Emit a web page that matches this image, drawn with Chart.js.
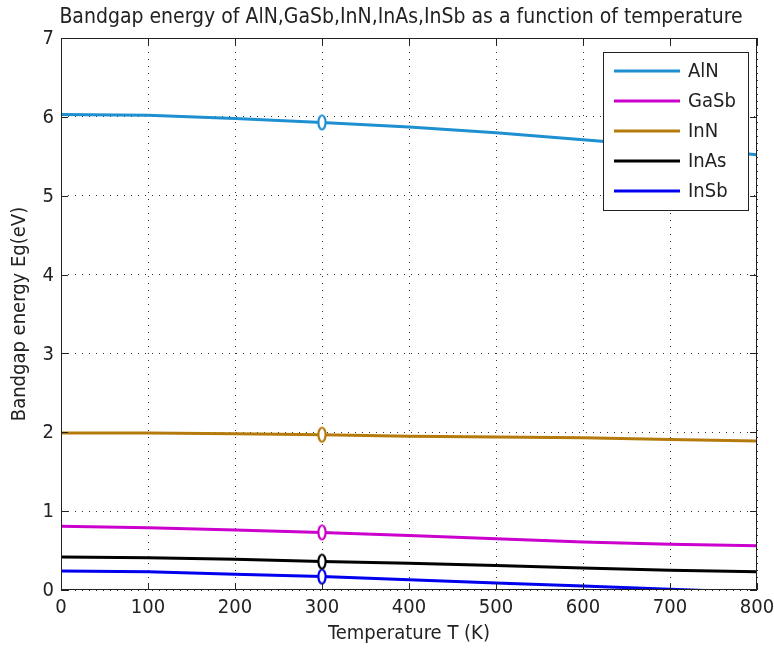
<!DOCTYPE html>
<html>
<head>
<meta charset="utf-8">
<script src="https://cdn.jsdelivr.net/npm/chart.js@4.4.0/dist/chart.umd.min.js"></script>
<style>
  html, body { margin: 0; padding: 0; background: #fff; }
  #wrap { width: 774px; height: 651px; }
</style>
</head>
<body>
<div id="wrap"><canvas id="bandgap-chart"></canvas></div>
<script>
var temps = [0, 100, 200, 300, 400, 500, 600, 700, 800]

var aln  = [6.03, 6.02, 5.98, 5.93, 5.87, 5.80, 5.71, 5.62, 5.52]
var gasb = [0.81, 0.79, 0.76, 0.73, 0.69, 0.65, 0.61, 0.58, 0.56]
var inn  = [1.99, 1.99, 1.98, 1.97, 1.95, 1.94, 1.93, 1.91, 1.89]
var inas = [0.42, 0.41, 0.39, 0.36, 0.34, 0.31, 0.28, 0.25, 0.23]
var insb = [0.24, 0.23, 0.20, 0.17, 0.13, 0.09, 0.05, 0.01, -0.03]

var series_names = ['AlN', 'GaSb', 'InN', 'InAs', 'InSb']
var series_colors = ['#1e8fd0', '#cc00cc', '#b57a0c', '#000000', '#0000ee']
var marker_temp = 300

var x_ticks = [0, 100, 200, 300, 400, 500, 600, 700, 800]
var y_ticks = [0, 1, 2, 3, 4, 5, 6, 7]

var font_family = '"Liberation Sans Narrow", "DejaVu Sans Condensed", Arial, sans-serif'
var font_size = 20

// MATLAB 'o' marker shows up as a tall narrow ring
function ring_marker(color) {
  var cv = document.createElement('canvas')
  cv.width = 12
  cv.height = 18
  var c = cv.getContext('2d')
  c.fillStyle = '#fff'
  c.strokeStyle = color
  c.lineWidth = 2.2
  c.beginPath()
  c.ellipse(6, 9, 3.6, 7, 0, 0, Math.PI * 2)
  c.fill()
  c.stroke()
  return cv
}

function make_dataset(name, color, values) {
  var marker = ring_marker(color)
  return {
    label: name,
    data: temps.map(function(t, i) { return { x: t, y: values[i] } }),
    borderColor: color,
    backgroundColor: '#fff',
    borderWidth: 3,
    tension: 0,
    clip: 0,
    pointStyle: marker,
    pointRadius: temps.map(function(t) { return t == marker_temp ? 6 : 0 }),
    pointBorderWidth: 0
  }
}

var all_values = [aln, gasb, inn, inas, insb]

// box, inward ticks, title and legend like a MATLAB figure
var matlab_axes = {
  id: 'matlab_axes',
  afterDatasetsDraw(chart) {
    var c = chart.ctx
    var a = chart.chartArea
    var xs = chart.scales.x
    var ys = chart.scales.y
    c.save()
    c.strokeStyle = '#222'
    c.lineWidth = 1
    c.strokeRect(a.left + 0.5, a.top + 0.5, a.right - a.left - 1, a.bottom - a.top - 1)
    c.beginPath()
    x_ticks.forEach(function(t) {
      var px = Math.round(xs.getPixelForValue(t)) + 0.5
      c.moveTo(px, a.bottom); c.lineTo(px, a.bottom - 7)
      c.moveTo(px, a.top); c.lineTo(px, a.top + 7)
    })
    y_ticks.forEach(function(t) {
      var py = Math.round(ys.getPixelForValue(t)) + 0.5
      c.moveTo(a.left, py); c.lineTo(a.left + 7, py)
      c.moveTo(a.right, py); c.lineTo(a.right - 7, py)
    })
    c.stroke()

    c.fillStyle = '#222'
    c.font = font_size + 'px ' + font_family
    c.textBaseline = 'middle'

    // tick labels
    c.textAlign = 'center'
    x_ticks.forEach(function(t) {
      c.fillText(String(t), xs.getPixelForValue(t), a.bottom + 18)
    })
    c.textAlign = 'right'
    y_ticks.forEach(function(t) {
      c.fillText(String(t), a.left - 7, ys.getPixelForValue(t) + 1)
    })

    // axis titles
    c.textAlign = 'center'
    c.fillText('Temperature T (K)', (a.left + a.right) / 2, 634)
    c.save()
    c.translate(20, (a.top + a.bottom) / 2)
    c.rotate(-Math.PI / 2)
    c.fillText('Bandgap energy Eg(eV)', 0, 0)
    c.restore()

    // title
    c.font = (font_size + 1) + 'px ' + font_family
    c.fillText('Bandgap energy of AlN,GaSb,InN,InAs,InSb as a function of temperature', 401, 18)
    c.font = font_size + 'px ' + font_family

    // legend
    var lx = 603, ly = 52, lw = 145, lh = 158
    c.fillStyle = '#fff'
    c.fillRect(lx, ly, lw, lh)
    c.strokeStyle = '#222'
    c.lineWidth = 1
    c.strokeRect(lx + 0.5, ly + 0.5, lw, lh)
    c.textAlign = 'left'
    series_names.forEach(function(name, i) {
      var yy = ly + 19 + i * 30
      c.strokeStyle = series_colors[i]
      c.lineWidth = 3
      c.beginPath()
      c.moveTo(614, yy); c.lineTo(680, yy)
      c.stroke()
      c.fillStyle = '#222'
      c.fillText(name, 688, yy + 1)
    })
    c.restore()
  }
}

var ctx = document.getElementById('bandgap-chart').getContext('2d')
var chart = new Chart(ctx, {
  type: 'line',
  data: {
    datasets: series_names.map(function(name, i) {
      return make_dataset(name, series_colors[i], all_values[i])
    })
  },
  options: {
    responsive: true,
    maintainAspectRatio: false,
    animation: false,
    layout: { padding: { left: 0, right: 17, top: 38, bottom: 0 } },
    scales: {
      x: {
        type: 'linear',
        min: 0,
        max: 800,
        afterFit: function(scale) {
          scale.height = 61
          scale.paddingLeft = 0
          scale.paddingRight = 0
        },
        afterBuildTicks: function(scale) { scale.ticks = x_ticks.map(function(v) { return { value: v } }) },
        grid: { color: '#333', lineWidth: 1, drawTicks: false },
        border: { display: false, dash: [1, 6] },
        ticks: { display: false }
      },
      y: {
        min: 0,
        max: 7,
        afterFit: function(scale) {
          scale.width = 61
          scale.paddingTop = 0
          scale.paddingBottom = 0
        },
        afterBuildTicks: function(scale) { scale.ticks = y_ticks.map(function(v) { return { value: v } }) },
        grid: { color: '#333', lineWidth: 1, drawTicks: false },
        border: { display: false, dash: [1, 6] },
        ticks: { display: false }
      }
    },
    plugins: {
      legend: { display: false },
      tooltip: { enabled: false }
    }
  },
  plugins: [matlab_axes]
})
</script>
</body>
</html>
